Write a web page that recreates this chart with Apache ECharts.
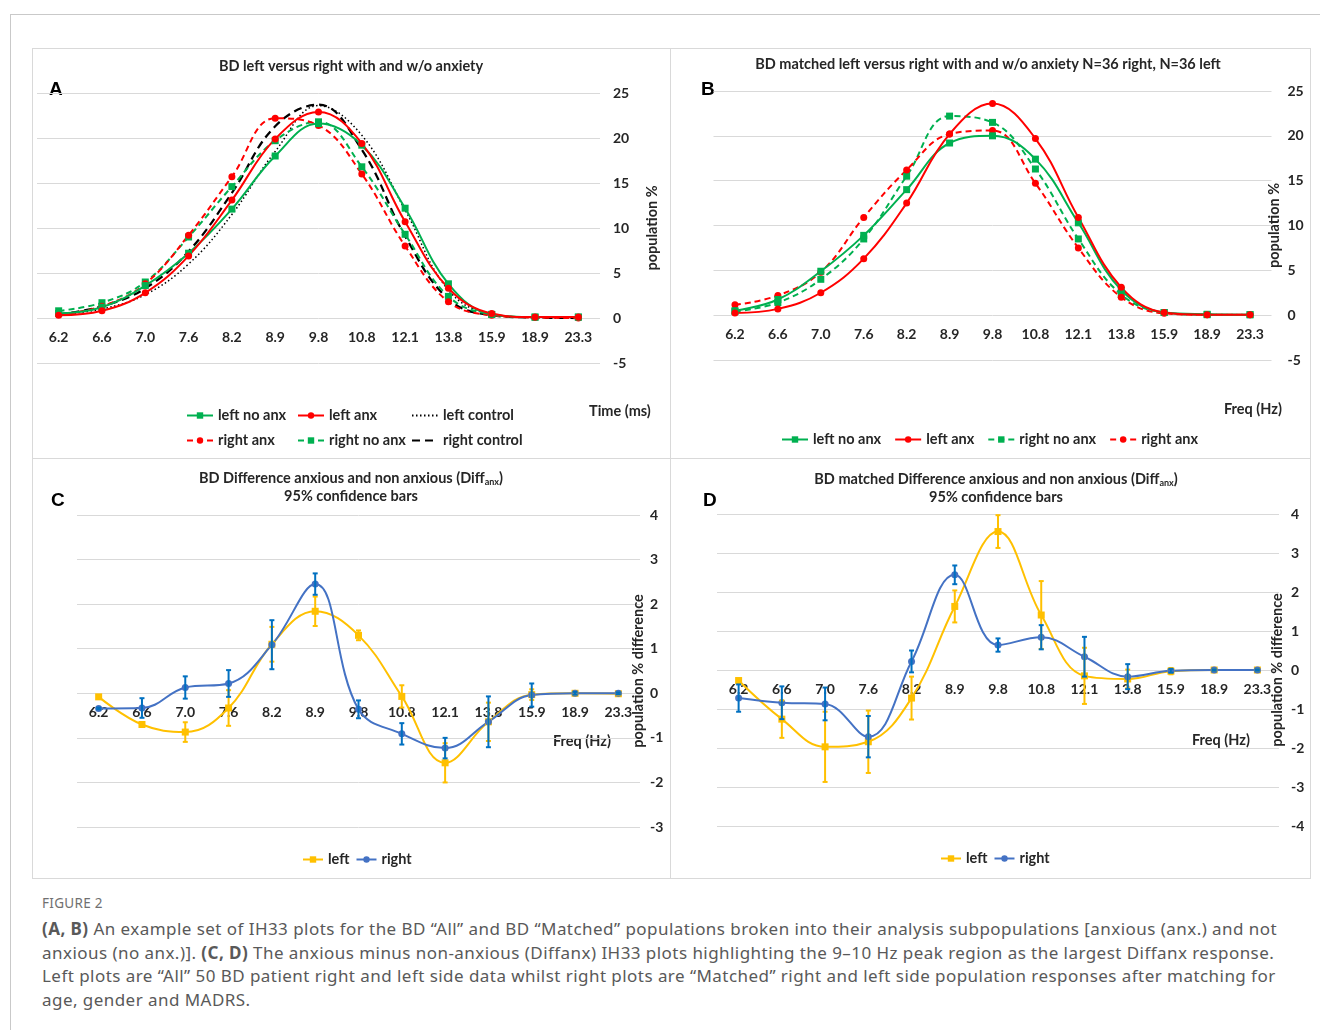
<!DOCTYPE html>
<html>
<head>
<meta charset="utf-8">
<script src="https://cdn.jsdelivr.net/npm/echarts@6.0.0/dist/echarts.min.js"></script>
<style>
  html, body { margin: 0; padding: 0; background: #fff; }
  body { width: 1320px; height: 1030px; position: relative; overflow: hidden; }
  .frame { position: absolute; left: 10px; top: 14px; width: 1400px; height: 1100px;
           border-left: 1px solid #c9c9c9; border-top: 1px solid #c9c9c9; }
  .panel { position: absolute; box-sizing: border-box; border: 1px solid #d9d9d9; background: #fff; }
  #panelA { left: 32px; top: 48px; width: 639px; height: 411px; }
  #panelB { left: 670px; top: 48px; width: 641px; height: 411px; }
  #panelC { left: 32px; top: 458px; width: 639px; height: 421px; }
  #panelD { left: 670px; top: 458px; width: 641px; height: 421px; }
  .caption { position: absolute; left: 42px; top: 894px; font-family: "Noto Sans", sans-serif; color: #595959; }
  .caption .fig { font-size: 13.5px; letter-spacing: 0.3px; color: #707070; margin-bottom: 5px; }
  .caption .txt { font-size: 17px; letter-spacing: 0.45px; line-height: 23.7px; white-space: nowrap; }
  .caption b { font-weight: 700; color: #595959; }
</style>
</head>
<body>
<div class="frame"></div>
<div class="panel" id="panelA"></div>
<div class="panel" id="panelB"></div>
<div class="panel" id="panelC"></div>
<div class="panel" id="panelD"></div>
<div class="caption">
  <div class="fig">FIGURE 2</div>
  <div class="txt"><b>(A, B)</b> An example set of IH33 plots for the BD “All” and BD “Matched” populations broken into their analysis subpopulations [anxious (anx.) and not<br>
  anxious (no anx.)]. <b>(C, D)</b> The anxious minus non-anxious (Diffanx) IH33 plots highlighting the 9–10 Hz peak region as the largest Diffanx response.<br>
  Left plots are “All” 50 BD patient right and left side data whilst right plots are “Matched” right and left side population responses after matching for<br>
  age, gender and MADRS.</div>
</div>

<script>
// frequency bins (x axis)
const freqCats = ['6.2', '6.6', '7.0', '7.6', '8.2', '8.9', '9.8', '10.8', '12.1', '13.8', '15.9', '18.9', '23.3'];

// panel A - all BD, population %
const aLeftNoAnx    = [0.5, 1.2, 3.6, 7.2, 12.1, 18.0, 21.6, 19.2, 12.2, 3.8, 0.4, 0.1, 0.1];
const aLeftAnx      = [0.3, 0.8, 2.8, 6.9, 13.1, 19.9, 22.9, 19.4, 10.7, 3.3, 0.5, 0.1, 0.1];
const aLeftControl  = [0.4, 1.0, 2.6, 6.0, 11.5, 18.5, 23.6, 20.3, 12.0, 3.1, 0.4, 0.05, 0];
const aRightAnx     = [0.4, 1.3, 3.8, 9.2, 15.7, 22.2, 21.4, 16.0, 8.0, 1.8, 0.3, 0.05, 0];
const aRightNoAnx   = [0.8, 1.7, 4.0, 9.0, 14.6, 19.7, 21.8, 16.8, 9.3, 2.4, 0.4, 0.1, 0.1];
const aRightControl = [0.4, 1.3, 3.3, 7.4, 13.9, 21.3, 23.7, 18.7, 9.1, 2.1, 0.3, 0.05, 0];

// panel B - matched BD, population %
const bLeftNoAnx  = [0.5, 1.75, 4.9, 8.9, 14.0, 19.2, 20.0, 17.4, 10.3, 2.8, 0.3, 0.1, 0.05];
const bLeftAnx    = [0.25, 0.7, 2.5, 6.3, 12.5, 20.2, 23.6, 19.7, 10.9, 3.1, 0.3, 0.05, 0.05];
const bRightNoAnx = [0.4, 1.4, 4.0, 8.5, 15.5, 22.2, 21.5, 16.3, 8.5, 2.3, 0.3, 0.05, 0.05];
const bRightAnx   = [1.15, 2.2, 4.8, 10.9, 16.2, 20.2, 20.6, 14.7, 7.5, 2.0, 0.2, 0.05, 0.05];

// panel C - Diff anx (all), with 95% CI half widths
const cLeft      = [-0.08, -0.7, -0.87, -0.33, 1.1, 1.84, 1.3, -0.07, -1.56, -0.64, -0.03, 0.0, -0.01];
const cLeftCI    = [0.02, 0.05, 0.22, 0.4, 0.39, 0.33, 0.11, 0.25, 0.44, 0.43, 0.12, 0.03, 0.02];
const cRight     = [-0.34, -0.33, 0.13, 0.22, 1.09, 2.45, -0.36, -0.91, -1.23, -0.64, -0.04, 0.0, 0.0];
const cRightCI   = [0.02, 0.22, 0.25, 0.3, 0.55, 0.24, 0.2, 0.24, 0.23, 0.57, 0.26, 0.03, 0.02];

// panel D - Diff anx (matched), with 95% CI half widths
const dLeft      = [-0.27, -1.26, -1.97, -1.84, -0.72, 1.63, 3.55, 1.41, -0.15, -0.23, -0.03, 0.0, 0.0];
const dLeftCI    = [0.05, 0.48, 0.9, 0.8, 0.55, 0.41, 0.42, 0.87, 0.72, 0.24, 0.08, 0.02, 0.02];
const dRight     = [-0.72, -0.84, -0.87, -1.71, 0.22, 2.44, 0.64, 0.84, 0.34, -0.17, -0.02, 0.0, 0.0];
const dRightCI   = [0.35, 0.42, 0.42, 0.53, 0.28, 0.24, 0.17, 0.31, 0.51, 0.32, 0.05, 0.02, 0.02];

const GREEN = '#00B050';
const RED = '#FF0000';
const BLACK = '#000000';
const YELLOW = '#FFC000';
const BLUE = '#4472C4';
const ERR_BLUE = '#0070C0';
const FONT = 'Lato';
const TXT = '#262626';

function lineSeries(name, data, color, symbol, dash, width) {
  return {
    name: name,
    type: 'line',
    data: data,
    smooth: 0.4,
    symbol: symbol || 'none',
    symbolSize: 7,
    showSymbol: !!symbol,
    showAllSymbol: true,
    lineStyle: { color: color, width: width || 2, type: dash || 'solid' },
    itemStyle: { color: color },
    emphasis: { disabled: true },
  };
}

function errorBars(values, ci, color) {
  return {
    type: 'custom',
    name: 'err',
    data: values.map((v, i) => [i, v - ci[i], v + ci[i]]),
    encode: { x: 0, y: [1, 2] },
    z: 4,
    renderItem: function (params, api) {
      const lo = api.coord([api.value(0), api.value(1)]);
      const hi = api.coord([api.value(0), api.value(2)]);
      const cap = 2.5;
      const st = { stroke: color, lineWidth: 2 };
      return {
        type: 'group',
        children: [
          { type: 'line', shape: { x1: lo[0], y1: lo[1], x2: hi[0], y2: hi[1] }, style: st },
          { type: 'line', shape: { x1: lo[0] - cap, y1: lo[1], x2: lo[0] + cap, y2: lo[1] }, style: st },
          { type: 'line', shape: { x1: hi[0] - cap, y1: hi[1], x2: hi[0] + cap, y2: hi[1] }, style: st },
        ],
      };
    },
  };
}

// legend entries for lines without markers get their symbol hidden
function lineOnly(name) {
  return { name: name, itemStyle: { opacity: 0, color: 'rgba(0,0,0,0)' } };
}

function legend(names, left, top, orient, gap, iconWidth) {
  return {
    data: names,
    left: left,
    top: top,
    padding: 0,
    orient: orient || 'horizontal',
    itemGap: gap,
    itemWidth: iconWidth || 26,
    itemHeight: 8,
    textStyle: { fontFamily: FONT, fontWeight: 'bold', fontSize: 14.5, color: TXT },
    selectedMode: false,
  };
}

function panelOption(cfg) {
  // x labels sit on the zero line: shift the x axis up by the share of the range below 0
  const zeroShift = -cfg.grid.height * (0 - cfg.yMin) / (cfg.yMax - cfg.yMin);
  return {
    animation: false,
    textStyle: { fontFamily: FONT },
    title: {
      text: cfg.title,
      left: cfg.titleX,
      top: cfg.titleTop,
      padding: 0,
      textAlign: 'center',
      textStyle: {
        fontFamily: FONT, fontWeight: 'bold', fontSize: 14.5, color: TXT, lineHeight: 18,
        rich: {
          b: { fontFamily: FONT, fontWeight: 'bold', fontSize: 14.5, color: TXT, lineHeight: 18 },
          s: { fontFamily: FONT, fontWeight: 'bold', fontSize: 9, color: TXT, lineHeight: 18, verticalAlign: 'bottom', padding: [6, 0, 0, 0] },
        },
      },
    },
    graphic: [
      { type: 'text', left: cfg.letterPos[0], top: cfg.letterPos[1],
        style: { text: cfg.letter, font: 'bold 19px "Liberation Sans"', fill: '#000' } },
      { type: 'text', left: cfg.xNamePos[0], top: cfg.xNamePos[1],
        style: { text: cfg.xName, font: 'bold 14.5px Lato', fill: TXT } },
    ],
    legend: cfg.legend,
    grid: Object.assign({ outerBoundsMode: 'none', containLabel: false }, cfg.grid),
    xAxis: {
      type: 'category',
      data: freqCats,
      boundaryGap: true,
      offset: zeroShift,
      axisLine: { show: false, onZero: false },
      axisTick: { show: false },
      axisLabel: { fontFamily: FONT, fontWeight: 'bold', fontSize: 14, color: TXT, margin: 12 },
      splitLine: { show: false },
    },
    yAxis: {
      type: 'value',
      position: 'right',
      min: cfg.yMin,
      max: cfg.yMax,
      interval: cfg.yStep,
      axisLine: { show: false },
      axisTick: { show: false },
      splitLine: { lineStyle: { color: '#d9d9d9', width: 1 } },
      axisLabel: { fontFamily: FONT, fontWeight: 'bold', fontSize: 14, color: TXT, margin: cfg.labelMargin },
      name: cfg.yName,
      nameLocation: 'middle',
      nameGap: cfg.nameGap,
      nameMoveOverlap: false,
      nameTextStyle: { fontFamily: FONT, fontWeight: 'bold', fontSize: 14.5, color: TXT },
    },
    series: cfg.series,
  };
}

const chartA = echarts.init(document.getElementById('panelA'));
chartA.setOption(panelOption({
  title: 'BD left versus right with and w/o anxiety',
  titleX: 318, titleTop: 8,
  letter: 'A', letterPos: [16, 31],
  xName: 'Time (ms)', xNamePos: [556, 355],
  grid: { left: 4, top: 44, width: 563, height: 270 },
  yMin: -5, yMax: 25, yStep: 5, labelMargin: 13,
  yName: 'population %', nameGap: 45,
  legend: [
    legend(['left no anx', 'right anx'], 153, 359, 'vertical', 10),
    legend(['left anx', 'right no anx'], 264, 359, 'vertical', 10),
    legend([lineOnly('left control'), lineOnly('right control')], 378, 359, 'vertical', 10),
  ],
  series: [
    lineSeries('left control', aLeftControl, BLACK, null, [1.5, 2.5], 1.5),
    lineSeries('right control', aRightControl, BLACK, null, [8, 5], 2.25),
    lineSeries('right no anx', aRightNoAnx, GREEN, 'rect', [6, 4]),
    lineSeries('right anx', aRightAnx, RED, 'circle', [6, 4]),
    lineSeries('left no anx', aLeftNoAnx, GREEN, 'rect'),
    lineSeries('left anx', aLeftAnx, RED, 'circle'),
  ],
}));

const chartB = echarts.init(document.getElementById('panelB'));
chartB.setOption(panelOption({
  title: 'BD matched left versus right with and w/o anxiety N=36 right, N=36 left',
  titleX: 317, titleTop: 6,
  letter: 'B', letterPos: [30, 31],
  xName: 'Freq (Hz)', xNamePos: [553, 353],
  grid: { left: 42.5, top: 42, width: 558, height: 269 },
  yMin: -5, yMax: 25, yStep: 5, labelMargin: 16,
  yName: 'population %', nameGap: -5,
  legend: [legend(['left no anx', 'left anx', 'right no anx', 'right anx'], 110, 383, 'horizontal', 13)],
  series: [
    lineSeries('right no anx', bRightNoAnx, GREEN, 'rect', [6, 4]),
    lineSeries('right anx', bRightAnx, RED, 'circle', [6, 4]),
    lineSeries('left no anx', bLeftNoAnx, GREEN, 'rect'),
    lineSeries('left anx', bLeftAnx, RED, 'circle'),
  ],
}));

const chartC = echarts.init(document.getElementById('panelC'));
chartC.setOption(panelOption({
  title: '{b|BD Difference anxious and non anxious (Diff}{s|anx}{b|)}\n{b|95% confidence bars}',
  titleX: 318, titleTop: 10,
  letter: 'C', letterPos: [18, 32],
  xName: 'Freq (Hz)', xNamePos: [520, 275],
  grid: { left: 44, top: 56, width: 563, height: 312 },
  yMin: -3, yMax: 4, yStep: 1, labelMargin: 10,
  yName: 'population % difference', nameGap: -9,
  legend: [legend(['left', 'right'], 269, 393, 'horizontal', 6, 20)],
  series: [
    lineSeries('left', cLeft, YELLOW, 'rect'),
    lineSeries('right', cRight, BLUE, 'circle'),
    errorBars(cLeft, cLeftCI, YELLOW),
    errorBars(cRight, cRightCI, ERR_BLUE),
  ],
}));

const chartD = echarts.init(document.getElementById('panelD'));
chartD.setOption(panelOption({
  title: '{b|BD matched Difference anxious and non anxious (Diff}{s|anx}{b|)}\n{b|95% confidence bars}',
  titleX: 325, titleTop: 11,
  letter: 'D', letterPos: [32, 32],
  xName: 'Freq (Hz)', xNamePos: [521, 274],
  grid: { left: 46, top: 55, width: 562, height: 312 },
  yMin: -4, yMax: 4, yStep: 1, labelMargin: 12,
  yName: 'population % difference', nameGap: -9,
  legend: [legend(['left', 'right'], 269, 392, 'horizontal', 6, 20)],
  series: [
    lineSeries('left', dLeft, YELLOW, 'rect'),
    lineSeries('right', dRight, BLUE, 'circle'),
    errorBars(dLeft, dLeftCI, YELLOW),
    errorBars(dRight, dRightCI, ERR_BLUE),
  ],
}));
</script>
</body>
</html>
